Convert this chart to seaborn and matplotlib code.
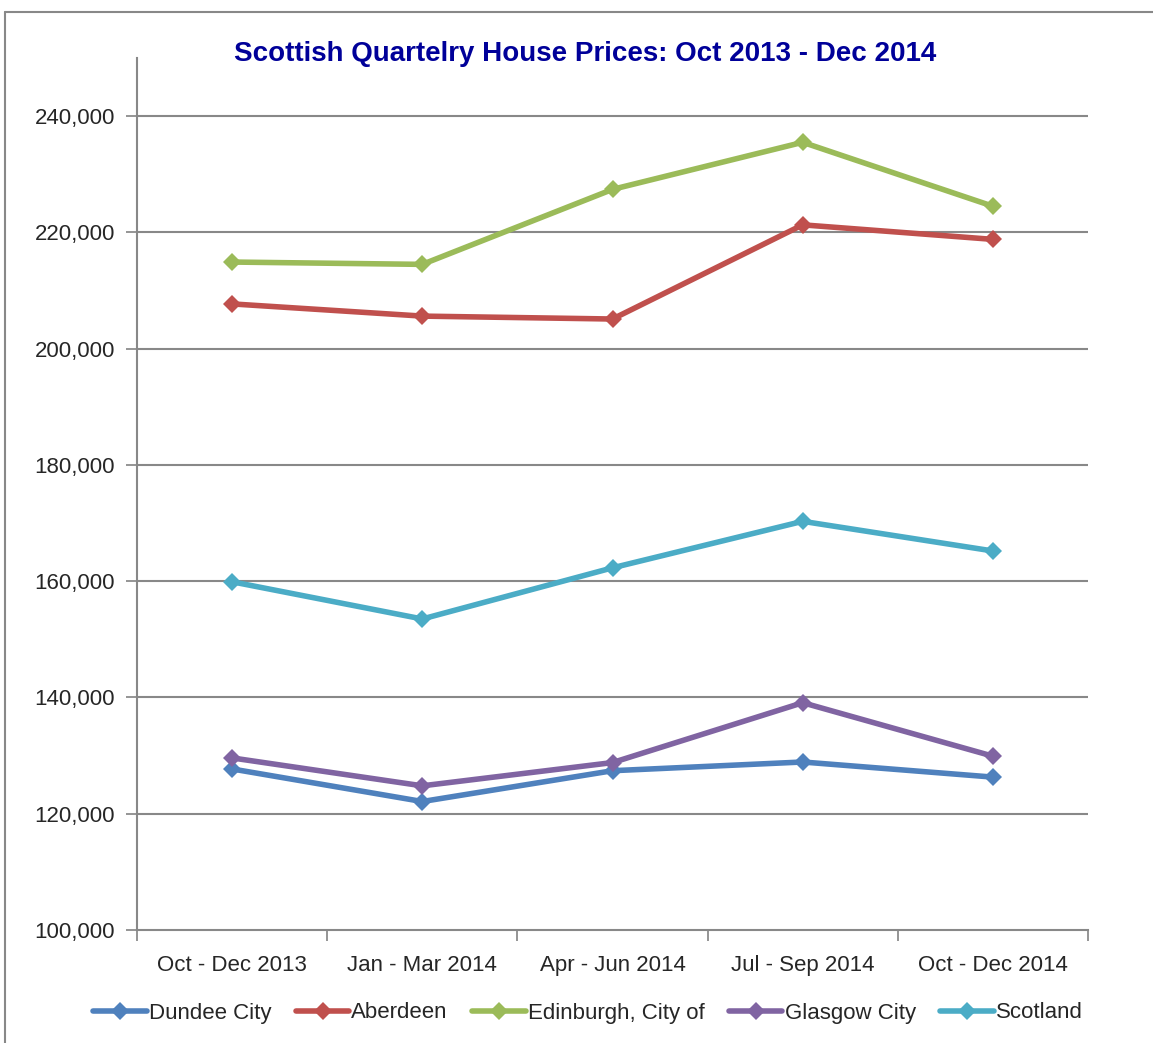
import matplotlib
matplotlib.use("Agg")
import matplotlib.pyplot as plt
import seaborn as sns
import pandas as pd
from matplotlib.lines import Line2D

quarters = ["Oct - Dec 2013", "Jan - Mar 2014", "Apr - Jun 2014", "Jul - Sep 2014", "Oct - Dec 2014"]
dundee = [127700, 122100, 127400, 128900, 126300]
aberdeen = [207700, 205600, 205100, 221300, 218800]
edinburgh = [214900, 214500, 227400, 235500, 224500]
glasgow = [129600, 124800, 128800, 139100, 129900]
scotland = [159900, 153500, 162300, 170300, 165200]
series_names = ["Dundee City", "Aberdeen", "Edinburgh, City of", "Glasgow City", "Scotland"]
colors = ["#4F81BD", "#C0504D", "#9BBB59", "#8064A2", "#4BACC6"]
yticks = [100000, 120000, 140000, 160000, 180000, 200000, 220000, 240000]

sns.set_theme(style="white")
plt.rcParams['font.family'] = 'Liberation Sans'

rows = []
for name, vals in zip(series_names, [dundee, aberdeen, edinburgh, glasgow, scotland]):
    for i, (q, v) in enumerate(zip(quarters, vals)):
        rows.append({"quarter": q, "pos": i, "region": name, "price": v})
df = pd.DataFrame(rows)

fig = plt.figure(figsize=(11.53, 10.43), dpi=100)
ax = fig.add_axes([137/1153, 1 - 930/1043, (1088-137)/1153, (930-58)/1043])

sns.lineplot(data=df, x="pos", y="price", hue="region", hue_order=series_names,
             palette=colors, marker="D", markersize=9, markeredgewidth=0,
             linewidth=4, ax=ax, legend=False, zorder=3)

ax.set_xlim(-0.5, 4.5)
ax.set_ylim(100000, 250000)
ax.set_yticks(yticks)
ax.set_yticklabels([f"{v:,}" for v in yticks], fontsize=16)
ax.set_xticks([i - 0.5 for i in range(6)], minor=False)
ax.set_xticklabels([])
ax.set_xticks(range(5), minor=True)
ax.set_xticklabels(quarters, minor=True, fontsize=16)
ax.tick_params(axis="x", which="major", length=8, color="#888888", direction="out", bottom=True)
ax.tick_params(axis="x", which="minor", length=0, pad=18)
ax.tick_params(axis="y", length=8, color="#888888", direction="out", left=True, pad=8)
ax.set_xlabel("")
ax.set_ylabel("")
for gy in yticks[1:]:
    ax.axhline(gy, color="#888888", linewidth=1.5, zorder=1)
for s in ["top", "right"]:
    ax.spines[s].set_visible(False)
for s in ["left", "bottom"]:
    ax.spines[s].set_color("#888888")
    ax.spines[s].set_linewidth(1.5)

fig.text(585/1153, 1 - 54/1043, "Scottish Quartelry House Prices: Oct 2013 - Dec 2014",
         ha="center", va="center", fontsize=20, fontweight="bold", color="#000099")

handles = [Line2D([0], [0], color=c, linewidth=4, marker="D", markersize=9, markeredgewidth=0)
           for c in colors]
leg = fig.legend(handles, series_names, loc="center", bbox_to_anchor=(588/1153, 1 - 1013/1043),
                 ncol=5, frameon=False, fontsize=16, handlelength=2.4, handletextpad=0.1,
                 columnspacing=1.1)

# outer chart border (top and left visible)
fig.add_artist(Line2D([5/1153, 1], [1 - 12/1043, 1 - 12/1043], transform=fig.transFigure,
                      color="#888888", linewidth=1.5))
fig.add_artist(Line2D([5/1153, 5/1153], [0, 1 - 12/1043], transform=fig.transFigure,
                      color="#888888", linewidth=1.5))

fig.savefig("out.png", dpi=100)
